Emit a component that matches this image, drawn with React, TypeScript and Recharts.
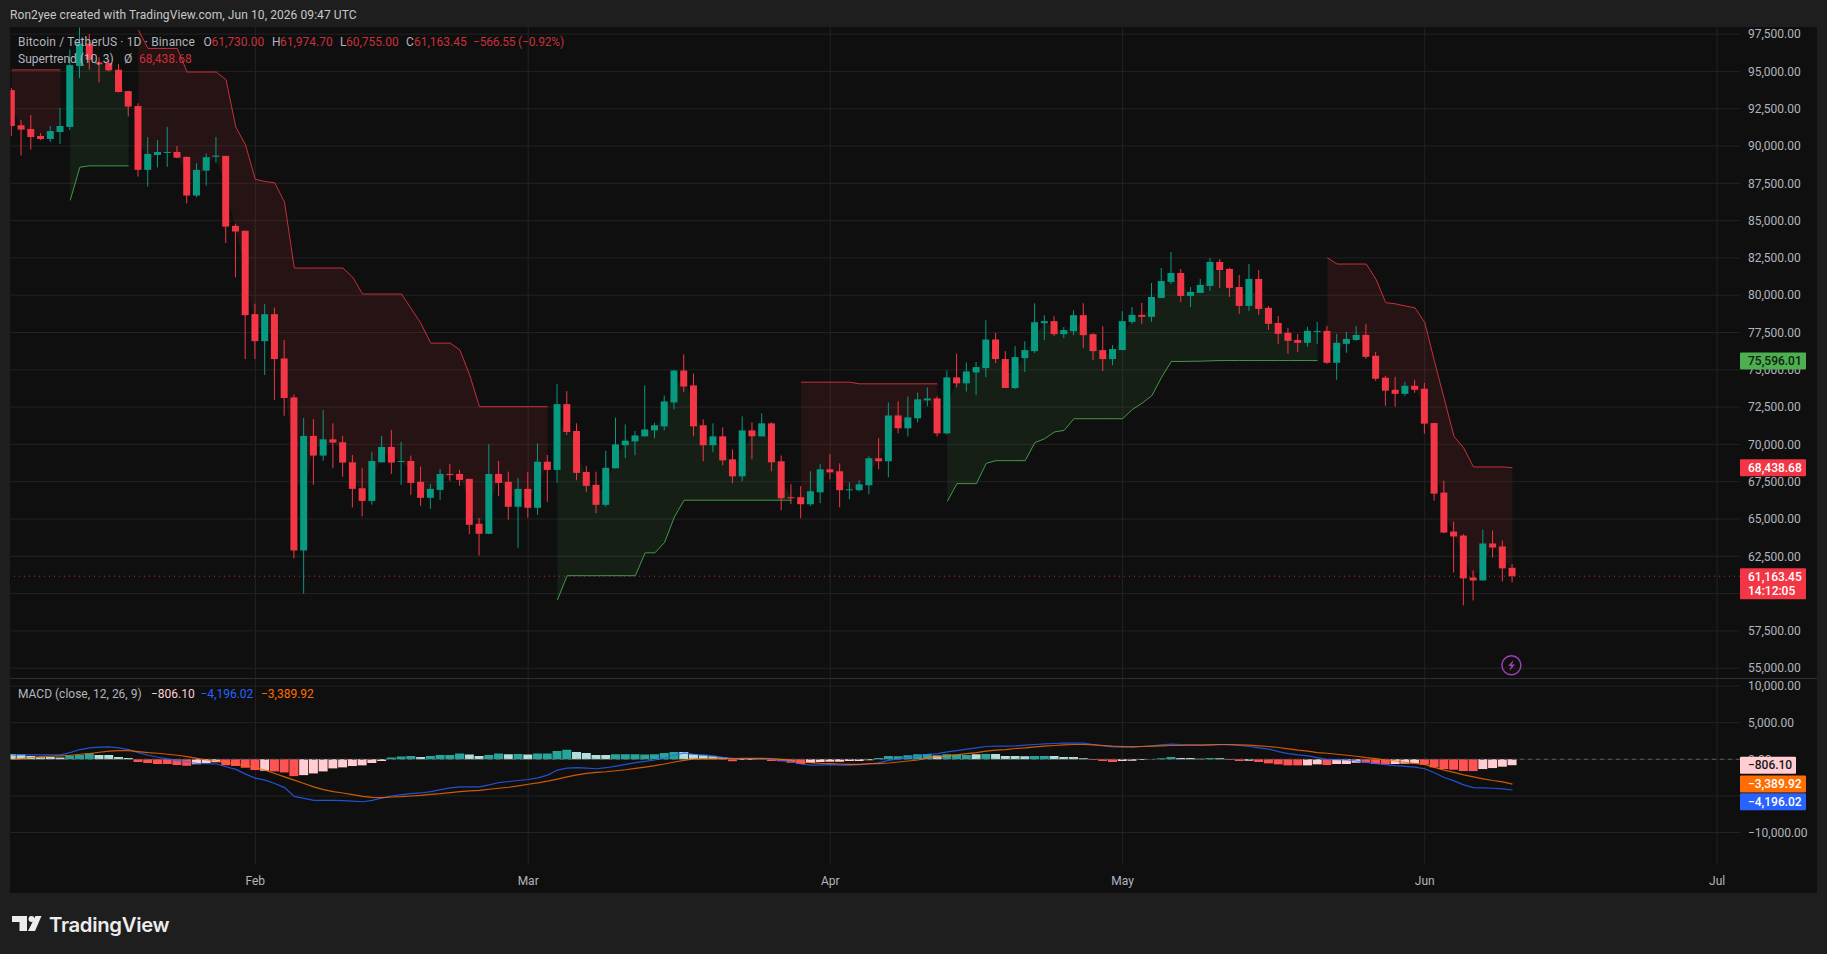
import React from "react";
import { ComposedChart, XAxis, YAxis, CartesianGrid, Bar, Line, Area, Cell, ReferenceLine } from "recharts";

type C = [number, number, number, number];
// open, high, low, close per day
const candlesJan: C[] = [
  [93750,93900,90670,91340],[91390,91740,89360,91100],[91140,92080,89760,90600],[90670,90850,90400,90470],[90470,91340,90270,91000],
  [90940,92550,90140,91340],[91280,96470,91070,95420],[95360,97940,94550,96870],[96870,97500,95110,95780],[95600,95950,94270,95480],
  [95560,95780,95000,95070],[95110,95500,93580,93620],[93680,93700,91970,92640],[92680,92860,87950,88400],[88400,90600,87280,89470],
  [89400,90400,88560,89600],[89570,91280,88600,89600],[89600,90000,89180,89220],[89270,89300,86150,86680],[86680,88850,86570,88400],
  [88350,89500,87350,89250],[89280,90600,88890,89360],[89340,89340,83500,84600],[84650,84790,81200,84270],[84320,84320,75720,78660],
];
const candlesFeb: C[] = [
  [78730,79430,75720,76920],[76920,79400,74650,78730],[78730,79170,72970,75720],[75760,76990,71920,73110],[73150,73350,62360,62890],
  [62890,71770,60000,70570],[70570,71700,67290,69250],[69250,72300,68900,70340],[70340,71410,68400,70120],[70140,70570,67840,68780],
  [68800,69290,65770,67020],[67060,68430,65170,66210],[66210,69500,65960,68890],[68800,70570,68800,69830],[69830,70970,68020,68780],
  [68840,70160,67290,68890],[68890,69250,66620,67420],[67490,68510,65880,66420],[66420,67350,65680,67020],[66950,68360,66280,68020],
  [68020,68690,67560,67960],[68020,68300,67220,67620],[67690,67700,63980,64610],[64680,65060,62540,64010],[64010,70000,63980,68020],
  [68020,68890,66550,67420],[67490,68170,64950,65820],[65820,67750,63070,67020],
];
const candlesMar: C[] = [
  [67020,68170,65090,65750],[65750,70070,65280,68840],[68840,69290,66150,68290],[68290,74040,67420,72700],[72700,73570,70630,70830],
  [70900,71410,67600,68090],[68150,68560,66820,67220],[67290,68170,65380,65950],[65950,69570,65820,68430],[68400,71790,68400,70000],
  [69940,71340,69070,70250],[70200,70900,69270,70600],[70540,73950,70540,71000],[70940,71450,70400,71280],[71210,73280,70940,72880],
  [72810,75000,72350,74950],[74950,76030,73500,73880],[73950,74750,70540,71210],[71280,71680,68870,69940],[69940,71410,69470,70540],
  [70540,71140,68600,68930],[69000,69670,67400,67860],[67860,71880,67530,70940],[70940,71480,69000,70540],[70540,72080,70540,71410],
  [71410,71480,68200,68800],[68870,69250,65590,66390],[66460,67330,66000,66390],[66460,67200,65050,65990],[65990,68200,65880,66860],
  [66790,68670,66060,68330],
];
const candlesApr: C[] = [
  [68330,69340,67660,68130],[68200,68730,65790,66930],[66930,67460,66320,66990],[66930,67600,66860,67330],[67260,69200,66660,69070],
  [69070,70410,68330,68870],[68870,72810,67800,71940],[71940,72880,70740,71080],[71080,73220,70540,71810],[71750,73480,71480,73020],
  [72950,73820,72550,73080],[73080,73220,70540,70740],[70740,74960,70670,74490],[74490,76090,73820,74090],[74090,75490,73550,74890],
  [74820,75520,73300,75180],[75110,78320,74510,77030],[77030,77480,75450,75720],[75720,76250,73780,73780],[73780,76590,73710,75850],
  [75780,76920,74850,76320],[76250,79460,76120,78190],[78120,78660,76990,78260],[78260,78590,77250,77390],[77390,77860,77120,77660],
  [77590,78990,77320,78660],[78660,79460,76450,77320],[77390,77460,75650,76250],[76320,77920,74910,75720],[75720,76650,75310,76390],
];
const candlesMay: C[] = [
  [76320,78930,76320,78260],[78210,79210,78080,78680],[78680,79480,78080,78550],[78550,80820,78210,79880],[79820,81820,79820,80950],
  [80890,82890,80750,81490],[81490,81760,79550,79950],[79950,80550,79210,80220],[80150,81090,80150,80690],[80620,82490,80290,82230],
  [82230,82420,80490,81690],[81760,81820,79880,80490],[80550,81360,78750,79280],[79280,82090,78950,81090],[81090,81690,78680,79080],
  [79150,79280,77680,78080],[78140,78610,76740,77410],[77480,77810,76070,76940],[77000,77410,76200,76810],[76810,77880,76540,77610],
  [77560,78210,76740,77610],[77610,77940,75400,75470],[75470,77410,74330,76810],[76740,77540,76140,77070],[77000,77940,76940,77340],
  [77340,78080,75740,75870],[75940,76200,74260,74400],[74470,74600,72590,73600],[73660,74530,72520,73390],[73390,74200,73260,73930],
  [73930,74330,73460,73660],
];
const candlesJun: C[] = [
  [73730,74130,70720,71390],[71430,71450,66230,66700],[66770,67570,64050,64090],[64160,64830,61420,63830],[63890,64000,59210,61020],
  [61080,61550,59540,60880],[60880,64290,60880,63360],[63360,64230,62420,63090],[63160,63560,60820,61690],[61730,61974.7,60755,61163.45],
];

const stJan = [95100,95100,95100,95100,95100,95100,86350,88580,88670,88670,88670,88670,88670,97770,96540,96540,96540,96540,94960,94960,94960,94960,94440,91270,90070];
const dirJan = "ddddddUUUUUUUdddddddddddd";
const stFeb = [87770,87620,87530,86240,81820,81820,81820,81820,81820,81820,81200,80080,80080,80080,80080,80080,79100,78100,76790,76790,76790,76320,74650,72530,72530,72530,72530,72530];
const dirFeb = "dddddddddddddddddddddddddddd";
const stMar = [72530,72530,72530,59570,61200,61200,61200,61200,61200,61200,61200,61200,62730,62730,63430,65140,66260,66260,66260,66260,66260,66260,66260,66260,66260,66260,66260,66260,74170,74170,74170];
const dirMar = "dddUUUUUUUUUUUUUUUUUUUUUUUUUddd";
const stApr = [74170,74170,74170,74060,74060,74060,74060,74060,74060,74060,74060,74060,66170,67370,67370,67370,68730,68910,68910,68910,68910,70120,70380,70830,70940,71720,71720,71720,71720,71720];
const dirApr = "ddddddddddddUUUUUUUUUUUUUUUUUU";
const stMay = [71720,72340,72760,73270,74500,75560,75560,75570,75580,75600,75620,75620,75620,75620,75620,75620,75620,75620,75620,75620,75620,82510,82090,82090,82090,82090,81070,79500,79420,79280,79150];
const dirMay = "UUUUUUUUUUUUUUUUUUUUUdddddddddd";
const stJun = [78170,75560,73060,70540,69760,68490,68490,68490,68490,68438.68];
const dirJun = "dddddddddd";

const macdJan = [552,598,598,598,598,598,920,1334,1564,1656,1702,1564,1334,920,552,276,46,-184,-368,-552,-598,-644,-1012,-1380,-2024];
const macdFeb = [-2576,-2852,-3312,-3864,-5060,-5336,-5612,-5612,-5612,-5658,-5704,-5796,-5612,-5290,-5014,-4830,-4692,-4600,-4416,-4140,-3910,-3772,-3772,-3772,-3496,-3174,-3036,-2898];
const macdMar = [-2760,-2530,-2162,-1472,-1196,-1150,-1196,-1288,-1150,-920,-690,-460,-276,-92,184,552,874,690,598,460,276,138,92,92,92,0,-138,-322,-644,-782,-782];
const macdApr = [-736,-782,-782,-736,-644,-460,-138,46,230,414,690,782,1012,1196,1380,1564,1748,1794,1794,1840,1932,2024,2116,2162,2208,2208,2208,2024,1840,1702];
const macdMay = [1656,1702,1748,1840,1978,2070,2024,1978,1932,1978,2024,1978,1886,1748,1564,1380,1058,782,598,460,230,0,-46,-92,-230,-414,-598,-736,-874,-966,-1058];
const macdJun = [-1288,-1840,-2484,-2944,-3496,-3864,-3910,-3956,-4048,-4196.02];

const signalJan = [0,92,230,368,414,460,552,690,782,966,1104,1196,1196,1058,920,828,690,552,368,138,-92,-230,-414,-644,-874];
const signalFeb = [-1150,-1472,-1932,-2392,-2852,-3312,-3772,-4140,-4416,-4600,-4830,-5060,-5198,-5244,-5152,-5106,-5014,-4922,-4784,-4692,-4554,-4416,-4324,-4232,-4094,-3956,-3818,-3634];
const signalMar = [-3404,-3220,-2990,-2714,-2392,-2116,-1932,-1794,-1700,-1564,-1426,-1242,-1058,-874,-644,-368,-138,46,92,138,92,92,138,138,138,92,0,-138,-368,-460,-552];
const signalApr = [-598,-644,-690,-690,-598,-598,-506,-368,-230,-92,184,322,460,598,782,920,1104,1242,1334,1472,1564,1702,1794,1886,1978,2024,2024,1978,1886,1794];
const signalMay = [1748,1702,1748,1794,1840,1886,1886,1932,1932,1978,2024,2024,1978,1932,1840,1748,1610,1426,1242,1104,920,828,690,552,414,230,92,-92,-230,-414,-552];
const signalJun = [-690,-1104,-1472,-1794,-2116,-2392,-2668,-2898,-3082,-3389.92];

const histJan = [690,644,460,276,322,230,506,598,782,598,598,322,184,-368,-506,-644,-644,-782,-874,-690,-506,-414,-828,-920,-1150];
const histFeb = [-1472,-1564,-1656,-1794,-2300,-2162,-1932,-1656,-1242,-1104,-920,-828,-506,-230,230,368,460,322,460,598,598,782,644,460,598,782,690,736];
const histMar = [644,782,782,1150,1288,1012,874,598,598,690,690,690,644,690,874,1012,1012,690,552,414,276,-276,-92,-92,92,-230,-276,-460,-644,-506,-368];
const histApr = [-322,-322,-230,-230,-138,184,460,414,552,690,736,506,690,644,598,690,736,736,460,460,414,460,460,460,322,322,138,-92,-230,-368];
const histMay = [-230,-184,-92,46,138,322,184,184,92,184,138,-92,-230,-184,-368,-552,-690,-828,-828,-828,-690,-782,-644,-644,-460,-460,-644,-690,-644,-598,-552];
const histJun = [-736,-1104,-1334,-1426,-1610,-1610,-1334,-1196,-1012,-806.1];
const histKindJan = "llllllgggllllrrrrrrppprrr";
const histKindFeb = "rprrrpppppppppggglggggllgglg";
const histKindMar = "lggggllllgggggggllllLrpplrrrrpp".toLowerCase();
const histKindApr = "pppppgggggglggglgllllggllllrrr";
const histKindMay = "pppggglllglrrprrrrrpprppprrrppp";
const histKindJun = "rrrrrrpppp";

const priceTicks = [55000,57500,60000,62500,65000,67500,70000,72500,75000,77500,80000,82500,85000,87500,90000,92500,95000,97500];
const macdTicks = [10000,5000,0,-5000,-10000];
const hiddenByTag = [60000,-5000];
const monthTicks = [25,53,84,114,145,175];
const monthLabels = ["Feb","Mar","Apr","May","Jun","Jul"];

const allCandles = [...candlesJan,...candlesFeb,...candlesMar,...candlesApr,...candlesMay,...candlesJun];
const allSt = [...stJan,...stFeb,...stMar,...stApr,...stMay,...stJun];
const allDir = dirJan+dirFeb+dirMar+dirApr+dirMay+dirJun;
const allMacd = [...macdJan,...macdFeb,...macdMar,...macdApr,...macdMay,...macdJun];
const allSignal = [...signalJan,...signalFeb,...signalMar,...signalApr,...signalMay,...signalJun];
const allHist = [...histJan,...histFeb,...histMar,...histApr,...histMay,...histJun];
const allKind = histKindJan+histKindFeb+histKindMar+histKindApr+histKindMay+histKindJun;

const rows = allCandles.map(([o,h,l,c],i) => {
  const st = allSt[i];
  const up = allDir[i] === "U";
  const mid = (o+c)/2;
  return {
    i, o, h, l, c, range: [l,h],
    stUp: up ? st : null, stDown: up ? null : st,
    bandUp: up ? [st,mid] : null, bandDown: up ? null : [st,mid],
    macd: allMacd[i], signal: allSignal[i], hist: allHist[i], kind: allKind[i],
  };
});

const UP = "#089981", DOWN = "#F23645";
const HIST: Record<string,string> = { g: "#26A69A", l: "#B2DFDB", r: "#FF5252", p: "#FFCDD2" };
const AXIS_TEXT = "#b2b5be";
const GRID = "#232323";
const FONT = "Roboto, sans-serif";
const X_DOMAIN: [number,number] = [-0.12,177.35];
const fmt = (v:number) => hiddenByTag.includes(v) ? "" : (v<0?"\u2212":"") + Math.abs(v).toLocaleString("en-US",{minimumFractionDigits:2,maximumFractionDigits:2});

const Candle = (p:any) => {
  const {x,y,width,height,payload:d} = p;
  const per = height/(d.h-d.l || 1);
  const top = y+(d.h-Math.max(d.o,d.c))*per;
  const bot = y+(d.h-Math.min(d.o,d.c))*per;
  const col = d.c>=d.o ? UP : DOWN;
  const cx = x+width/2;
  return <g>
    <line x1={cx} x2={cx} y1={y} y2={y+height} stroke={col} strokeWidth={1}/>
    <rect x={x} y={top} width={width} height={Math.max(bot-top,1)} fill={col}/>
  </g>;
};

const Tag = (p:any) => {
  const {viewBox,text,sub,bg,fg,w=66,shift=0} = p;
  const right = viewBox.x+viewBox.width;
  const cy = viewBox.y+shift;
  const h = sub ? 31 : 17;
  const top = sub ? cy-8 : cy-8.5;
  return <g>
    <rect x={right} y={top} width={w} height={h} fill={bg} rx={1}/>
    <text x={right+8} y={top+12.5} fill={fg} fontFamily={FONT} fontSize={12} fontWeight={500}>{text}</text>
    {sub && <text x={right+8} y={top+26.5} fill={fg} fontFamily={FONT} fontSize={12} fontWeight={500}>{sub}</text>}
  </g>;
};

const abs = (left:number,top:number,extra:any={}) => ({position:"absolute",left,top,whiteSpace:"pre",fontFamily:FONT,fontSize:12,lineHeight:"14px",...extra});
const LBL = "#b2b5be", RED = "#c9303c";
const TAG_Z = 3000;

export default function App(){
  return (
    <div style={{position:"absolute",left:0,top:0,width:1827,height:954,background:"#1e1e1e",overflow:"hidden"}}>
      <div style={{position:"absolute",left:10,top:27,width:1807,height:866,background:"#0f0f0f"}}/>
      <div style={{position:"absolute",left:10,top:678,width:1807,height:1,background:"#2e2e2e"}}/>
      <div style={abs(10,8,{color:"#c8c8c8",letterSpacing:"0.08px"})}>Ron2yee created with TradingView.com, Jun 10, 2026 09:47 UTC</div>

      <div style={{position:"absolute",left:0,top:27}}>
        <ComposedChart width={1827} height={651} data={rows} margin={{left:10.5,right:10,top:0,bottom:0}}>
          <CartesianGrid stroke={GRID} strokeWidth={1} syncWithTicks/>
          <XAxis dataKey="i" type="number" hide domain={X_DOMAIN} ticks={monthTicks} allowDataOverflow/>
          <YAxis orientation="right" width={77} domain={[54343,97976]} ticks={priceTicks} allowDataOverflow tickLine={false} axisLine={false} tickSize={0} tickMargin={8} interval={0}
            tick={{fill:AXIS_TEXT,fontSize:12,fontFamily:FONT}} tickFormatter={fmt}/>
          <Area dataKey="bandDown" stroke="none" fill="rgba(242,54,69,0.1)" fillOpacity={1} dot={false} activeDot={false} isAnimationActive={false}/>
          <Area dataKey="bandUp" stroke="none" fill="rgba(76,175,80,0.1)" fillOpacity={1} dot={false} activeDot={false} isAnimationActive={false}/>
          <Bar dataKey="range" barSize={7} shape={Candle} isAnimationActive={false}/>
          <Line dataKey="stDown" stroke="#F23645" strokeOpacity={0.8} strokeWidth={1} dot={false} activeDot={false} isAnimationActive={false}/>
          <Line dataKey="stUp" stroke="#4CAF50" strokeOpacity={0.85} strokeWidth={1} dot={false} activeDot={false} isAnimationActive={false}/>
          <ReferenceLine zIndex={TAG_Z} y={61163.45} stroke="#F23645" strokeDasharray="1 4" strokeOpacity={0.75}
            label={<Tag text="61,163.45" sub="14:12:05" bg="#F23645" fg="#fff"/>}/>
          <ReferenceLine zIndex={TAG_Z} y={68438.68} stroke="none" label={<Tag text="68,438.68" bg="#F23645" fg="#fff"/>}/>
          <ReferenceLine zIndex={TAG_Z} y={75596.01} stroke="none" label={<Tag text="75,596.01" bg="#4CAF50" fg="#10210f"/>}/>
        </ComposedChart>
      </div>

      <div style={{position:"absolute",left:0,top:679}}>
        <ComposedChart width={1827} height={214} data={rows} margin={{left:10.5,right:10,top:0,bottom:0}}>
          <CartesianGrid stroke={GRID} strokeWidth={1} syncWithTicks/>
          <XAxis dataKey="i" type="number" domain={X_DOMAIN} ticks={monthTicks} allowDataOverflow height={29} interval={0} tickLine={false} axisLine={false} tickMargin={6}
            tick={{fill:AXIS_TEXT,fontSize:12,fontFamily:FONT}} tickFormatter={(v:number)=>monthLabels[monthTicks.indexOf(v)]}/>
          <YAxis orientation="right" width={77} domain={[-14303,10970]} ticks={macdTicks} allowDataOverflow tickLine={false} axisLine={false} tickSize={0} tickMargin={8} interval={0}
            tick={{fill:AXIS_TEXT,fontSize:12,fontFamily:FONT}} tickFormatter={fmt}/>
          <ReferenceLine y={0} stroke="#5a5a5a" strokeDasharray="4 4"/>
          <Bar dataKey="hist" barSize={9} isAnimationActive={false}>
            {rows.map(r => <Cell key={r.i} fill={HIST[r.kind]}/>)}
          </Bar>
          <Line dataKey="macd" stroke="#2962FF" strokeOpacity={0.8} strokeWidth={1.2} dot={false} activeDot={false} isAnimationActive={false}/>
          <Line dataKey="signal" stroke="#FF6D00" strokeOpacity={0.8} strokeWidth={1.2} dot={false} activeDot={false} isAnimationActive={false}/>
          <ReferenceLine zIndex={TAG_Z} y={-806.1} stroke="none" label={<Tag text={"\u2212806.10"} bg="#FFCDD2" fg="#131722" w={56}/>}/>
          <ReferenceLine zIndex={TAG_Z} y={-3389.92} stroke="none" label={<Tag text={"\u22123,389.92"} bg="#FF6D00" fg="#fff"/>}/>
          <ReferenceLine zIndex={TAG_Z} y={-4196.02} stroke="none" label={<Tag text={"\u22124,196.02"} bg="#2962FF" fg="#fff" shift={11.7}/>}/>
        </ComposedChart>
      </div>

      <div style={abs(18,35,{color:LBL,letterSpacing:"0.15px"})}>Bitcoin / TetherUS · 1D · Binance</div>
      <div style={abs(203.5,35,{color:LBL})}>O</div><div style={abs(211.5,35,{color:RED})}>61,730.00</div>
      <div style={abs(272,35,{color:LBL})}>H</div><div style={abs(280,35,{color:RED})}>61,974.70</div>
      <div style={abs(340,35,{color:LBL})}>L</div><div style={abs(346,35,{color:RED})}>60,755.00</div>
      <div style={abs(406,35,{color:LBL})}>C</div><div style={abs(414,35,{color:RED})}>61,163.45</div>
      <div style={abs(473,35,{color:RED,letterSpacing:"-0.2px"})}>−566.55 (−0.92%)</div>
      <div style={abs(18,52,{color:LBL})}>Supertrend (10, 3)</div>
      <div style={abs(124,52,{color:LBL})}>Ø</div><div style={abs(139,52,{color:RED})}>68,438.68</div>
      <div style={abs(18,687,{color:LBL})}>MACD (close, 12, 26, 9)</div>
      <div style={abs(151,687,{color:"#FFCDD2"})}>−806.10</div>
      <div style={abs(200.5,687,{color:"#2962FF"})}>−4,196.02</div>
      <div style={abs(261,687,{color:"#FF6D00"})}>−3,389.92</div>

      <svg style={{position:"absolute",left:0,top:0,pointerEvents:"none"}} width={1827} height={954}>
        <circle cx={1511.4} cy={665.3} r={9.5} fill="none" stroke="#9C3FB5" strokeWidth={1.5}/>
        <path d="M1513.5 660 L1508 666 L1511 666 L1509.5 671 L1515 664.5 L1512 664.5 Z" fill="#9C3FB5"/>
        <path d="M12 916 H27 V931 H19.5 V922 H12 Z" fill="#ececec"/>
        <circle cx={31.5} cy={919} r={3} fill="#ececec"/>
        <path d="M35.5 916 H41.5 L35 931 H28 Z" fill="#ececec"/>
      </svg>
      <div style={{position:"absolute",left:49,top:912,color:"#ececec",fontFamily:"Inter, sans-serif",fontSize:20.3,fontWeight:600,lineHeight:"26px",letterSpacing:"-0.3px",whiteSpace:"pre"}}>TradingView</div>
    </div>
  );
}
